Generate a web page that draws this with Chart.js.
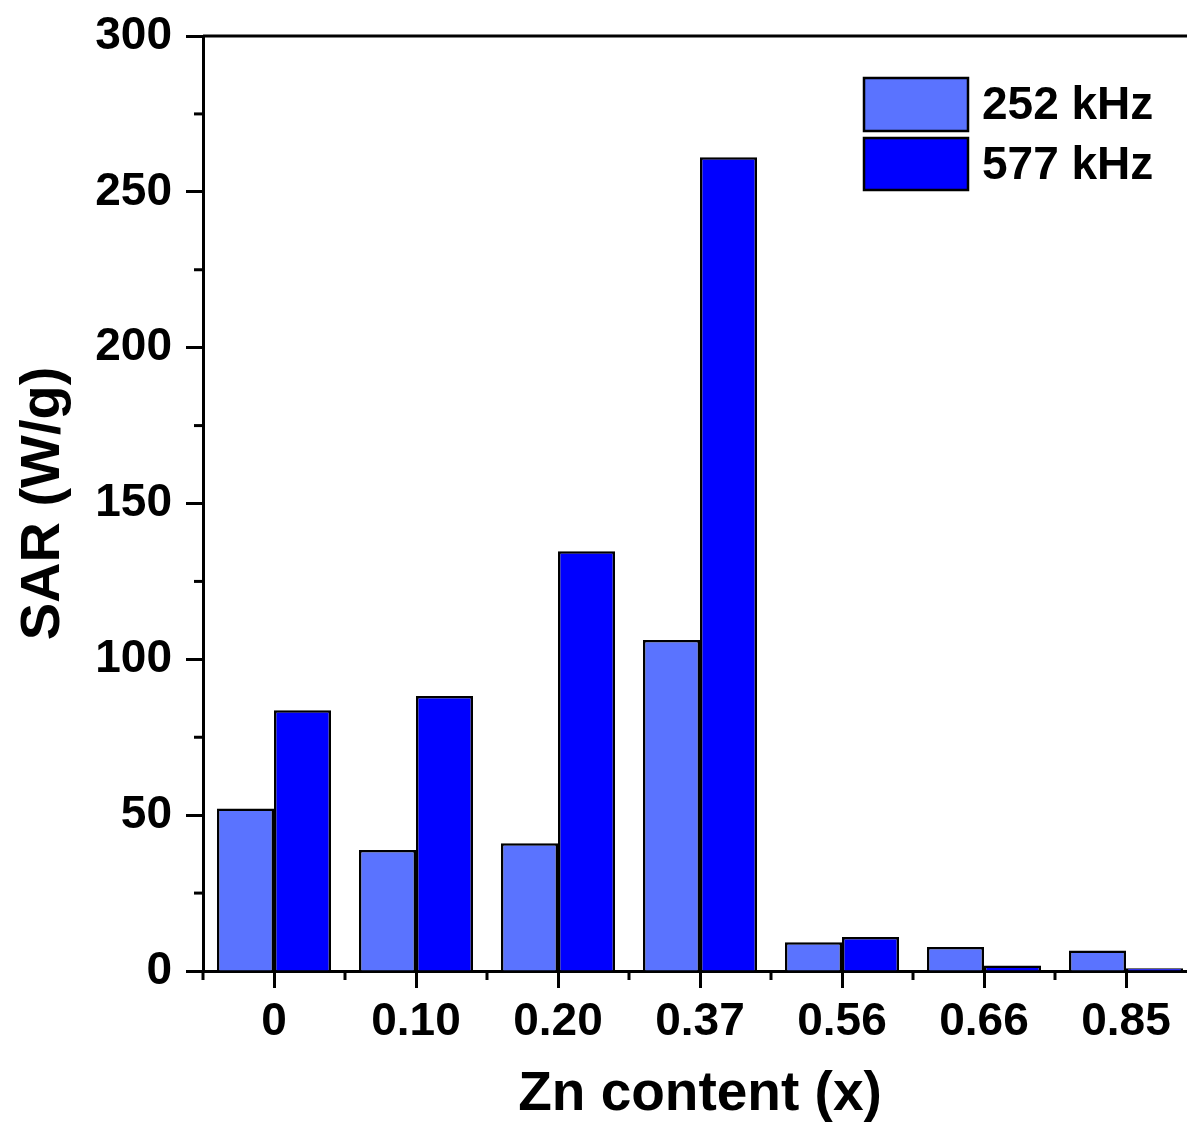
<!DOCTYPE html>
<html>
<head>
<meta charset="utf-8">
<title>SAR vs Zn content</title>
<script src="https://cdn.jsdelivr.net/npm/chart.js@4"></script>
<style>
  html, body { margin: 0; padding: 0; background: #fff; overflow: hidden; }
  canvas { display: block; }
</style>
</head>
<body>
<canvas id="sarChart" width="1200" height="1126"></canvas>
<script>
// values
const znContent = ['0', '0.10', '0.20', '0.37', '0.56', '0.66', '0.85'];
const sar252 = [52.1, 38.8, 41.0, 106.2, 9.2, 7.7, 6.6];
const sar577 = [83.7, 88.2, 134.7, 261.1, 10.9, 1.8, 0.9];
const seriesLabels = ['252 kHz', '577 kHz'];
const yTicks = [0, 50, 100, 150, 200, 250, 300];

const FONT = '"Liberation Sans", Arial, sans-serif';
Chart.defaults.font.family = FONT;
Chart.defaults.color = '#000';

// minor ticks, top frame line and the boxed legend inside the plot
const frameAndLegend = {
    id: 'frameAndLegend',
    afterDraw(chart) {
        const ctx = chart.ctx;
        const area = chart.chartArea;
        const x = chart.scales.x;
        const y = chart.scales.y;
        ctx.save();
        ctx.strokeStyle = '#000';
        ctx.lineWidth = 3;

        // top frame
        ctx.beginPath();
        ctx.moveTo(area.left, area.top);
        ctx.lineTo(chart.width, area.top);
        ctx.stroke();

        // y minor ticks
        for (let i = 0; i < yTicks.length - 1; i++) {
            const py = y.getPixelForValue((yTicks[i] + yTicks[i + 1]) / 2);
            ctx.beginPath();
            ctx.moveTo(area.left - 9, py);
            ctx.lineTo(area.left, py);
            ctx.stroke();
        }

        // x minor ticks at category boundaries
        const step = x.getPixelForValue(1) - x.getPixelForValue(0);
        for (let i = 0; i <= znContent.length; i++) {
            const px = x.getPixelForValue(0) - step / 2 + i * step;
            ctx.beginPath();
            ctx.moveTo(px, area.bottom);
            ctx.lineTo(px, area.bottom + 9);
            ctx.stroke();
        }

        // legend
        const ds = chart.data.datasets;
        const boxes = [[864, 78, 104, 53], [864, 138, 104, 52]];
        ctx.font = 'bold 46px ' + FONT;
        ctx.textBaseline = 'middle';
        ctx.textAlign = 'left';
        ds.forEach((d, i) => {
            const [bx, by, bw, bh] = boxes[i];
            ctx.fillStyle = d.backgroundColor;
            ctx.fillRect(bx, by, bw, bh);
            ctx.lineWidth = 2.5;
            ctx.strokeRect(bx, by, bw, bh);
            ctx.fillStyle = '#000';
            ctx.fillText(d.label, 982, by + bh / 2 + 2);
        });
        ctx.restore();
    }
};

new Chart(document.getElementById('sarChart'), {
    type: 'bar',
    data: {
        labels: znContent,
        datasets: [
            {
                label: seriesLabels[0],
                data: sar252,
                backgroundColor: '#5a73ff',
                borderColor: '#000',
                borderWidth: 2.5
            },
            {
                label: seriesLabels[1],
                data: sar577,
                backgroundColor: '#0000ff',
                borderColor: '#000',
                borderWidth: 2.5
            }
        ]
    },
    options: {
        responsive: false,
        animation: false,
        layout: { padding: { top: 36, right: 3, left: 0, bottom: 0 } },
        datasets: { bar: { categoryPercentage: 0.803, barPercentage: 1 } },
        plugins: {
            legend: { display: false },
            tooltip: { enabled: false }
        },
        scales: {
            x: {
                z: 1,
                afterFit: s => { s.height = 155; s.paddingLeft = 0; s.paddingRight = 0; },
                grid: { offset: false, drawOnChartArea: false, tickLength: 17, tickWidth: 3, tickColor: '#000' },
                border: { color: '#000', width: 3 },
                ticks: { font: { size: 46, weight: 'bold' }, color: '#000', padding: 7, maxRotation: 0 },
                title: {
                    display: true,
                    text: 'Zn content (x)',
                    font: { size: 55, weight: 'bold', lineHeight: 1 },
                    color: '#000',
                    padding: { top: 0, bottom: 4 }
                }
            },
            y: {
                z: 1,
                min: 0,
                max: 300,
                afterFit: s => { s.width = 203; s.paddingTop = 0; s.paddingBottom = 0; },
                afterBuildTicks: s => { s.ticks = yTicks.map(v => ({ value: v })); },
                grid: { drawOnChartArea: false, tickLength: 17, tickWidth: 3, tickColor: '#000' },
                border: { color: '#000', width: 3 },
                ticks: { font: { size: 46, weight: 'bold' }, color: '#000', padding: 14 },
                title: {
                    display: true,
                    text: 'SAR (W/g)',
                    font: { size: 56, weight: 'bold', lineHeight: 1 },
                    color: '#000',
                    padding: { top: 16, bottom: 0 }
                }
            }
        }
    },
    plugins: [frameAndLegend]
});
</script>
</body>
</html>
